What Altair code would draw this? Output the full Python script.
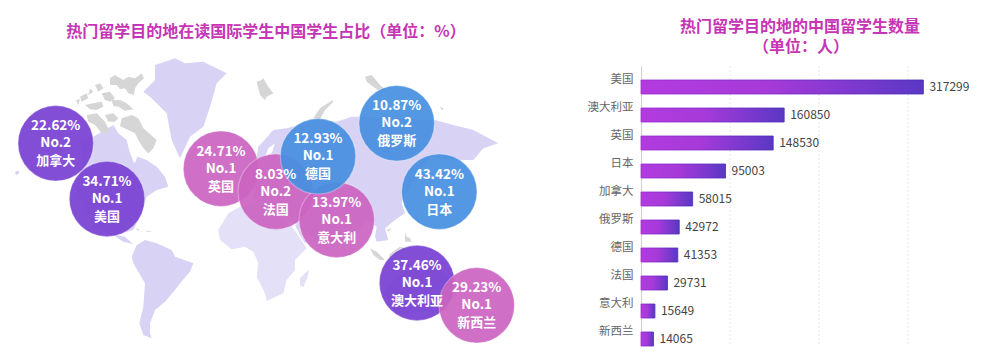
import altair as alt

FONT = "Noto Sans CJK SC"

# ---- bubbles ----
names = ["加拿大", "美国", "英国", "法国", "意大利", "德国", "俄罗斯", "日本", "澳大利亚", "新西兰"]
shares = ["22.62%", "34.71%", "24.71%", "8.03%", "13.97%", "12.93%", "10.87%", "43.42%", "37.46%", "29.23%"]
ranks = ["No.2", "No.1", "No.1", "No.2", "No.1", "No.1", "No.2", "No.1", "No.1", "No.1"]
groups = ["p", "p", "m", "m", "m", "b", "b", "b", "p", "m"]
px = [55.7, 107, 221, 275.7, 336.7, 318, 396.7, 439.3, 417, 476.7]
py = [143.3, 199, 168.7, 191.7, 220, 156.3, 123.3, 191.7, 283, 305.3]

# ---- bars ----
countries = ["美国", "澳大利亚", "英国", "日本", "加拿大", "俄罗斯", "德国", "法国", "意大利", "新西兰"]
students = [317299, 160850, 148530, 95003, 58015, 42972, 41353, 29731, 15649, 14065]
grid_values = [100000, 200000, 300000]

# ---- map outlines (3x crop coordinates) ----
lav = {
    "na": [(240, 420), (280, 410), (340, 375), (355, 400), (380, 420), (390, 460), (405, 490),
           (412, 470), (440, 480), (470, 500), (495, 530), (505, 560), (470, 570), (440, 590), (425, 640), (400, 690),
           (350, 705), (375, 710), (400, 733), (390, 730), (370, 725), (340, 705), (290, 690), (225, 560), (250, 500)],
    "ak": [(45, 515), (55, 512), (58, 520), (48, 525)],
    "gl": [(465, 195), (525, 175), (555, 190), (610, 185), (680, 220), (650, 250), (630, 320), (610, 380), (570, 410),
           (540, 475), (515, 420), (500, 340), (450, 290), (430, 275), (465, 240)],
    "sa": [(435, 720), (470, 730), (515, 750), (525, 770), (580, 790), (570, 815), (540, 850), (525, 870), (495, 905),
           (465, 930), (450, 970), (450, 1000), (455, 1015), (430, 1005), (418, 970), (430, 920), (435, 850), (400, 790),
           (395, 770), (410, 735)],
    "as": [(760, 600), (760, 540), (775, 440), (820, 390), (860, 385), (950, 360), (1010, 365), (1055, 350), (1085, 350),
           (1305, 360), (1360, 375), (1420, 390), (1495, 430), (1450, 445), (1420, 480), (1380, 480), (1290, 470),
           (1210, 590), (1205, 610), (1215, 640), (1185, 660), (1155, 685), (1165, 720), (1130, 725), (1125, 710),
           (1130, 680), (1100, 660), (1070, 700), (1000, 740), (950, 720), (915, 700), (885, 670), (860, 640)],
    "au": [(1150, 880), (1200, 820), (1300, 790), (1380, 860), (1340, 930), (1200, 940)],
    "ar": [(885, 675), (900, 705), (915, 730), (920, 730), (905, 700), (895, 675)],
}
pale = {
    "af": [(655, 690), (685, 640), (720, 620), (800, 600), (880, 685), (920, 745), (885, 780), (885, 810), (860, 840),
           (850, 880), (800, 903), (795, 880), (770, 830), (775, 790), (760, 755), (735, 740), (695, 748), (660, 720)],
    "mg": [(925, 810), (925, 825), (910, 862), (900, 855), (900, 835)],
}
grey = {
    "h": [(770, 245), (785, 240), (790, 235), (805, 260), (820, 280), (800, 290), (795, 300), (780, 285), (775, 265)],
    "i": [(1000, 300), (990, 305), (960, 325), (940, 355), (960, 358), (975, 330), (1000, 305)],
    "j": [(1095, 230), (1115, 225), (1140, 255), (1160, 270), (1145, 280), (1120, 260), (1100, 245)],
    "k": [(1320, 320), (1332, 325), (1325, 330)],
    "l": [(1110, 745), (1130, 755), (1155, 780), (1140, 780), (1120, 765)],
    "m": [(1165, 765), (1200, 740), (1220, 745), (1180, 770)],
    "n": [(1215, 695), (1220, 710), (1230, 715), (1235, 725), (1215, 725)],
    "o": [(1160, 690), (1175, 685), (1165, 695)],
    "q": [(405, 685), (418, 688), (415, 692)],
    "r": [(440, 692), (458, 695), (440, 696)],
    # arctic Canada
    "a1": [(330, 235), (345, 225), (370, 240), (385, 230), (405, 235), (425, 220), (432, 235), (415, 250), (405, 265),
           (402, 285), (385, 280), (375, 265), (360, 268), (350, 255), (330, 255)],
    "a2": [(285, 255), (300, 250), (310, 265), (295, 275)],
    "a3": [(270, 265), (280, 275), (265, 285)],
    "a4": [(240, 290), (260, 280), (265, 295), (245, 305)],
    "a5": [(228, 300), (240, 298), (235, 315)],
    "a6": [(305, 280), (330, 275), (345, 295), (330, 305), (315, 300)],
    "a7": [(335, 300), (360, 300), (380, 310), (400, 328), (375, 332), (355, 320), (340, 318)],
    "a8": [(255, 315), (280, 310), (305, 305), (310, 320), (290, 330), (270, 328)],
    "a9": [(260, 345), (290, 340), (315, 365), (330, 395), (305, 400), (285, 375), (265, 365)],
    "a10": [(315, 345), (340, 340), (355, 355), (345, 365), (325, 365)],
    "a11": [(365, 355), (395, 345), (415, 355), (430, 385), (470, 420), (460, 445), (445, 460), (430, 445), (415, 420),
            (405, 400), (385, 390), (360, 378)],
}
holes = {
    "baltic": [(825, 430), (815, 460), (795, 470), (805, 445)],
    "hudson": [(395, 465), (402, 470), (400, 490)],
}


def features(shapes):
    return [
        {
            "type": "Feature",
            "properties": {"id": k},
            "geometry": {
                "type": "Polygon",
                "coordinates": [[[x / 3, y / 3] for x, y in (pts + pts[:1])]],
            },
        }
        for k, pts in shapes.items()
    ]


left_w, left_h = 633, 338
xs = alt.Scale(domain=[8, 641], range=[0, left_w], nice=False, zero=False)
ys = alt.Scale(domain=[8, 346], range=[0, left_h], nice=False, zero=False)


def geo(shapes, color, tx=-8):
    return (
        alt.Chart(alt.Data(values=features(shapes)))
        .mark_geoshape(fill=color, strokeWidth=0)
        .project(type="identity", scale=1, translate=[tx, -8])
    )


bubbles = alt.Data(values=[
    {"name": n, "share": s, "rank": r, "g": g, "px": x, "py": y}
    for n, s, r, g, x, y in zip(names, shares, ranks, groups, px, py)
])
X = alt.X("px:Q", scale=xs, axis=None)
Y = alt.Y("py:Q", scale=ys, axis=None)

circles = alt.Chart(bubbles).mark_point(
    filled=True, size=5685, shape="circle", fillOpacity=0.93, stroke="#ffffff", strokeOpacity=0.3, strokeWidth=1.2
).encode(
    x=X, y=Y,
    fill=alt.Fill("g:N", legend=None,
                  scale=alt.Scale(domain=["p", "m", "b"], range=["#7941d2", "#cb64c1", "#478fe0"])),
)


def line(field, dy, size):
    return alt.Chart(bubbles).mark_text(
        color="#ffffff", font=FONT, fontWeight="bold", fontSize=size, dy=dy, baseline="middle", align="center"
    ).encode(x=X, y=Y, text=f"{field}:N")


title_l = alt.Chart(alt.Data(values=[{"t": "热门留学目的地在读国际学生中国学生占比（单位：%）"}])).mark_text(
    font=FONT, fontWeight="bold", fontSize=16, color="#c535b6", baseline="middle", align="center"
).encode(x=alt.value(266 - 8), y=alt.value(31.5 - 8), text="t:N")

left = alt.layer(
    geo(lav, "#d8d3f4"), geo(pale, "#e3e0f7"), geo(grey, "#d6d6d6"), geo(holes, "#ffffff"),
    circles, line("share", -17, 13.5), line("rank", 0, 13.5), line("name", 18, 13), title_l,
).properties(width=left_w, height=left_h)

# ---- right panel ----
right_w = 352
bars = alt.Data(values=[{"c": c, "v": v} for c, v in zip(countries, students)])
bx = alt.Scale(domain=[0, 395506], range=[0, right_w], nice=False, zero=True)
by = alt.Scale(domain=countries, range=[58, 338], paddingInner=0, paddingOuter=0)
BY = alt.Y("c:N", scale=by, sort=countries, title=None,
           axis=alt.Axis(ticks=False, grid=False, domainColor="#cfcfcf", labelColor="#666666", labelFont=FONT,
                         labelFontSize=11.5, labelPadding=8, labelBaseline="middle"))

grid = alt.Chart(alt.Data(values=[{"g": g} for g in grid_values])).mark_rule(
    color="#e6e6e6", strokeDash=[2, 2], strokeWidth=1
).encode(x=alt.X("g:Q", scale=bx, axis=None), y=alt.value(58), y2=alt.value(338))

bar = alt.Chart(bars).mark_bar(
    height=14, yOffset=7,
    color=alt.LinearGradient(gradient="linear", x1=0, x2=1, y1=0, y2=0,
                             stops=[alt.GradientStop(color="#b23bdf", offset=0),
                                    alt.GradientStop(color="#a63ad9", offset=0.45),
                                    alt.GradientStop(color="#5a38c4", offset=1)]),
    stroke=alt.LinearGradient(gradient="linear", x1=0, x2=1, y1=0, y2=0,
                              stops=[alt.GradientStop(color="#a02bd0", offset=0),
                                     alt.GradientStop(color="#4a2cb8", offset=1)]),
    strokeWidth=1, strokeOpacity=0.8,
).encode(x=alt.X("v:Q", scale=bx, axis=None), y=BY)

value_text = alt.Chart(bars).mark_text(
    align="left", baseline="middle", dx=6, yOffset=7, font=FONT, fontSize=12, color="#444444"
).encode(x=alt.X("v:Q", scale=bx, axis=None), y=BY, text="v:Q")

title_r1 = alt.Chart(alt.Data(values=[{"t": "热门留学目的地的中国留学生数量"}])).mark_text(
    font=FONT, fontWeight="bold", fontSize=16, color="#c535b6", baseline="middle", align="center"
).encode(x=alt.value(800 - 641), y=alt.value(27 - 8), text="t:N")
title_r2 = alt.Chart(alt.Data(values=[{"t": "（单位：人）"}])).mark_text(
    font=FONT, fontWeight="bold", fontSize=16, color="#c535b6", baseline="middle", align="center"
).encode(x=alt.value(801 - 641), y=alt.value(47 - 8), text="t:N")

right = alt.layer(grid, bar, value_text, title_r1, title_r2).properties(width=right_w, height=left_h)

chart = (
    alt.hconcat(left, right, spacing=0, bounds="flush")
    .properties(padding=0, background="#ffffff")
    .configure_view(stroke=None)
)

chart.save("out.html", embed_options={"renderer": "svg", "actions": False})
